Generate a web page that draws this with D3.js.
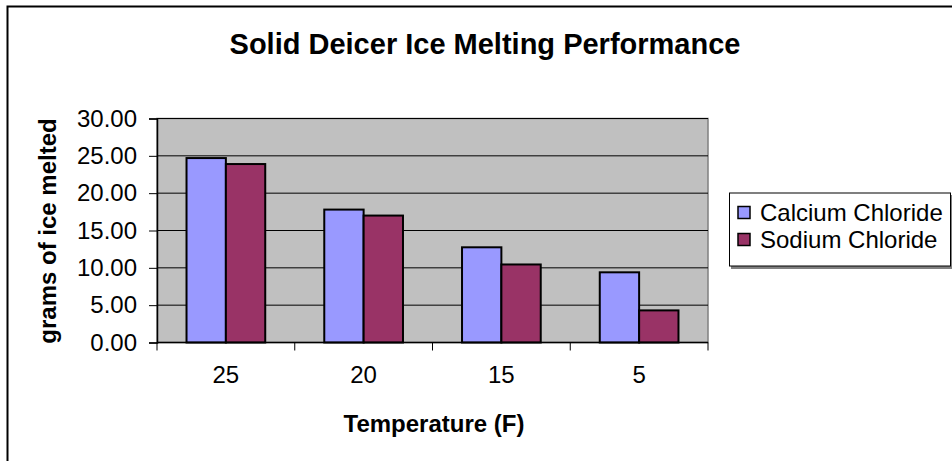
<!DOCTYPE html>
<html><head><meta charset="utf-8">
<script src="https://cdn.jsdelivr.net/npm/d3@7"></script>
<style>body{margin:0;background:#fff}svg{display:block;font-family:Arial,"Liberation Sans",sans-serif}</style>
</head><body>
<svg id="c" width="952" height="461"></svg>
<script>
const categories = ["25","20","15","5"];
const seriesNames = ["Calcium Chloride","Sodium Chloride"];
const calcium = [24.7, 17.8, 12.75, 9.4];
const sodium = [23.9, 17.0, 10.45, 4.3];
const yTicks = [0,5,10,15,20,25,30];
const colors = ["#9999ff","#993366"];

const FONT = "Arial, 'Liberation Sans', sans-serif";
const svg = d3.select("#c");
const L=157, R=708, T=118.5, B=342.5;

// outer border
svg.append("rect").attr("x",7.5).attr("y",6.5).attr("width",960).attr("height",470)
  .attr("fill","#fff").attr("stroke","#000").attr("stroke-width",2);

const x = d3.scaleBand().domain(categories).range([L,R]).paddingInner(1.5/3.5).paddingOuter(0.75/3.5);
const xs = d3.scaleBand().domain(seriesNames).range([0,x.bandwidth()]);
const y = d3.scaleLinear().domain([0,30]).range([B,T]);

svg.append("rect").attr("x",L).attr("y",T).attr("width",R-L).attr("height",B-T)
  .attr("fill","#c0c0c0").attr("stroke","#808080").attr("stroke-width",1.5);

svg.append("g").selectAll("line").data(yTicks.filter(d=>d>0)).join("line")
  .attr("x1",L).attr("x2",R).attr("y1",d=>y(d)).attr("y2",d=>y(d))
  .attr("stroke","#000").attr("stroke-width",1);

const data = [calcium, sodium];
seriesNames.forEach((s,i)=>{
  svg.append("g").selectAll("rect").data(categories).join("rect")
    .attr("x",c=>x(c)+xs(s)).attr("width",xs.bandwidth())
    .attr("y",(c,j)=>y(data[i][j])).attr("height",(c,j)=>B-y(data[i][j]))
    .attr("fill",colors[i]).attr("stroke","#000").attr("stroke-width",2);
});

// y axis
const ya = svg.append("g").attr("transform",`translate(${L},0)`)
  .call(d3.axisLeft(y).tickValues(yTicks).tickFormat(d3.format(".2f")).tickSizeOuter(0).tickSize(8).tickPadding(12));
ya.attr("font-size",null).attr("font-family",null);
ya.select(".domain").attr("stroke","#000").attr("stroke-width",1.5);
ya.selectAll("text").style("font-size","24px").style("font-family",FONT).attr("fill","#000");

// x axis
const xb = d3.scaleLinear().domain([0,4]).range([L,R]);
const xa = svg.append("g").attr("transform",`translate(0,${B})`);
xa.append("line").attr("x1",L).attr("x2",R).attr("stroke","#000").attr("stroke-width",1.5);
xa.selectAll(".t").data(d3.range(5)).join("line").attr("class","t")
  .attr("x1",d=>xb(d)).attr("x2",d=>xb(d)).attr("y1",0).attr("y2",8).attr("stroke","#000");
xa.selectAll("text").data(categories).join("text")
  .attr("x",c=>x(c)+x.bandwidth()/2).attr("y",40).attr("text-anchor","middle")
  .style("font-size","24px").text(c=>c);

// titles
svg.append("text").attr("x",485).attr("y",54).attr("text-anchor","middle")
  .style("font-size","29px").attr("font-weight","bold").text("Solid Deicer Ice Melting Performance");
svg.append("text").attr("x",434).attr("y",432).attr("text-anchor","middle")
  .style("font-size","24px").attr("font-weight","bold").text("Temperature (F)");
svg.append("text").attr("transform","translate(56,231) rotate(-90)").attr("text-anchor","middle")
  .style("font-size","24px").attr("font-weight","bold").text("grams of ice melted");

// legend
const lg = svg.append("g");
lg.append("rect").attr("x",731).attr("y",195).attr("width",221).attr("height",74).attr("fill","#808080");
lg.append("rect").attr("x",729.5).attr("y",193).attr("width",221).attr("height",73)
  .attr("fill","#fff").attr("stroke","#000").attr("stroke-width",1);
seriesNames.forEach((s,i)=>{
  const cy = 212.5 + i*27;
  lg.append("rect").attr("x",738).attr("y",cy-6).attr("width",12).attr("height",12)
    .attr("fill",colors[i]).attr("stroke","#000").attr("stroke-width",1.5);
  lg.append("text").attr("x",760).attr("y",cy+8).style("font-size","24px").text(s);
});
</script>
</body></html>
